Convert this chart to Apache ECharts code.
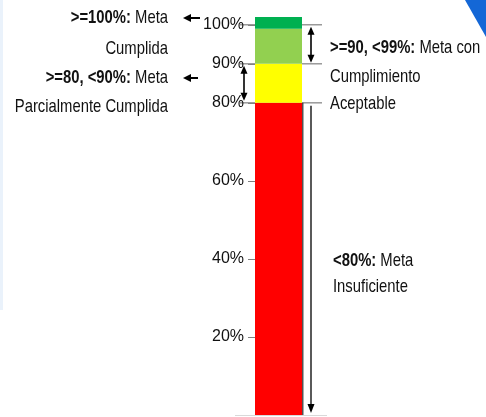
<!DOCTYPE html>
<html>
<head>
<meta charset="utf-8">
<script src="https://cdn.jsdelivr.net/npm/echarts@6/dist/echarts.min.js"></script>
<style>
  html, body { margin: 0; padding: 0; background: #fff; }
  #chart { width: 486px; height: 417px; }
</style>
</head>
<body>
<div id="chart"></div>
<script>
// Compliance scale: one stacked column split into performance bands
const categories = ['Meta'];
const bandNames = ['<80%', '>=80, <90%', '>=90, <99%', '>=100%'];
const bandValues = [80, 10, 9, 3];
const bandColors = ['#ff0000', '#ffff00', '#92d050', '#00b050'];
const tickValues = [20, 40, 60, 80, 90, 100];
const axisMax = 102;

const FONT = '"Liberation Sans", Arial, sans-serif';
const NARROW = 0.78; // horizontal squeeze for the condensed note lettering
const NOTE_SIZE = 19;

const chart = echarts.init(document.getElementById('chart'));

chart.setOption({
  animation: false,
  backgroundColor: '#ffffff',
  grid: { left: 255, width: 47, top: 17, bottom: 2, containLabel: false },
  xAxis: {
    type: 'category',
    data: categories,
    show: false
  },
  yAxis: {
    type: 'value',
    min: 0,
    max: axisMax,
    interval: 10,
    splitLine: { show: false },
    axisLine: { show: false },
    axisTick: {
      show: true,
      length: 7,
      customValues: tickValues,
      lineStyle: { color: '#808080', width: 1 }
    },
    axisLabel: {
      customValues: tickValues,
      margin: 11,
      formatter: v => v + '%',
      fontFamily: FONT,
      fontSize: 16,
      color: '#111'
    }
  },
  series: bandValues.map((v, i) => ({
    name: bandNames[i],
    type: 'bar',
    stack: 'scale',
    barWidth: '100%',
    data: [v],
    itemStyle: Object.assign(
      { color: bandColors[i] },
      i === 0 ? { shadowColor: 'rgba(40,40,40,0.8)', shadowOffsetX: 1.5, shadowBlur: 0 } : {}
    )
  }))
});

// Annotation layer: guide lines, arrows and notes, placed from the axis scale
const yPx = v => chart.convertToPixel({ yAxisIndex: 0 }, v);
const rect = chart.getModel().getComponent('grid').coordinateSystem.getRect();
const barL = rect.x, barR = rect.x + rect.width;

const y100 = yPx(100), y90 = yPx(90), y80 = yPx(80), y0 = yPx(0);

const gray = '#7f7f7f';
const els = [];

function line(x1, y1, x2, y2, color, w) {
  els.push({ type: 'line', shape: { x1, y1, x2, y2 }, style: { stroke: color, lineWidth: w }, silent: true });
}
function head(x, y, dir, len, half) {
  let pts;
  if (dir === 'up') pts = [[x, y], [x - half, y + len], [x + half, y + len]];
  else if (dir === 'down') pts = [[x, y], [x - half, y - len], [x + half, y - len]];
  else pts = [[x, y], [x + len, y - half], [x + len, y + half]];
  els.push({ type: 'polygon', shape: { points: pts }, style: { fill: '#000' }, silent: true });
}
function vDouble(x, yTop, yBot) {
  line(x, yTop + 6, x, yBot - 6, '#000', 1.6);
  head(x, yTop, 'up', 8, 3.5);
  head(x, yBot, 'down', 8, 3.5);
}
function leftArrow(x1, x2, y) {
  line(x1 + 6, y, x2, y, '#000', 2);
  head(x1, y, 'left', 8, 4);
}
function txt(x, y, text, align) {
  els.push({
    type: 'text', x, y, scaleX: NARROW, silent: true,
    style: {
      text,
      align,
      verticalAlign: 'middle',
      rich: {
        b: { fontFamily: FONT, fontSize: NOTE_SIZE, fontWeight: 'bold', fill: '#111' },
        n: { fontFamily: FONT, fontSize: NOTE_SIZE, fill: '#111' }
      }
    }
  });
}

// faint page edge and corner accent
els.push({ type: 'rect', shape: { x: 0, y: 0, width: 3, height: 310 }, style: { fill: '#eaf2fb' }, silent: true });
els.push({ type: 'polygon', shape: { points: [[465, 0], [486, 0], [486, 37]] }, style: { fill: '#1467d6' }, silent: true });

// baseline under the column
line(235, y0 + 0.5, 327, y0 + 0.5, '#d9d9d9', 1);

// band boundaries extending to the right of the column
[y100, y90, y80].forEach(y => line(barR, y, barR + 20, y, gray, 1.2));
// longer left ticks at the upper thresholds
[y100, y90, y80].forEach(y => line(barL - 15, y, barL, y, gray, 1.2));

// range arrows
vDouble(barR + 9, y100 + 2, y90 - 1);
vDouble(barL - 11, y90 + 2, y80 - 2);
line(barR + 9, y80 + 3, barR + 9, y0 - 6, '#000', 1.3);
head(barR + 9, y0 - 2, 'down', 9, 3.5);

// pointers from the left notes
leftArrow(183, 200, 18);
leftArrow(183, 198, 78);

// notes
txt(168, 18, '{b|>=100%:}{n| Meta}', 'right');
txt(168, 49, '{n|Cumplida}', 'right');
txt(168, 78, '{b|>=80, <90%:}{n| Meta}', 'right');
txt(168, 107, '{n|Parcialmente Cumplida}', 'right');

txt(330, 48, '{b|>=90, <99%:}{n| Meta con}', 'left');
txt(330, 77, '{n|Cumplimiento}', 'left');
txt(330, 104, '{n|Aceptable}', 'left');

txt(333, 261, '{b|<80%:}{n| Meta}', 'left');
txt(333, 287, '{n|Insuficiente}', 'left');

chart.setOption({ graphic: { elements: els } });
</script>
</body>
</html>
